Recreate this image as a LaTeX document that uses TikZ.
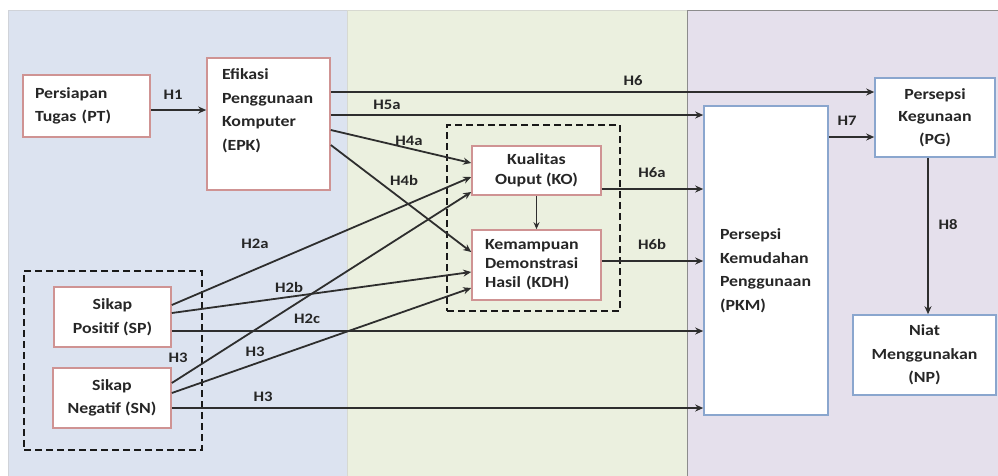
\documentclass[tikz,border=0pt]{standalone}
\usepackage{fontspec}
\setmainfont{Carlito}[FakeStretch=1.15]
\usetikzlibrary{arrows.meta}
\definecolor{bluep}{HTML}{DCE3F0}
\definecolor{greenp}{HTML}{EBF0DF}
\definecolor{purp}{HTML}{E5E0EC}
\definecolor{redb}{HTML}{CF9393}
\definecolor{blueb}{HTML}{8AA6CE}
\definecolor{lin}{HTML}{2E2E2E}
\definecolor{txt}{HTML}{262626}
\newcommand{\mytopbox}[5]{\parbox[c][#2][t]{#1}{\leftskip=#3\relax\vspace*{#4}#5}}
\begin{document}
\begin{tikzpicture}[x=1pt,y=-1pt,
  every node/.style={font=\fontsize{15.5}{23.5}\selectfont\bfseries, text=txt},
  redbox/.style={draw=redb, line width=1.6pt, fill=white, inner sep=0pt},
  bluebox/.style={draw=blueb, line width=1.6pt, fill=white, inner sep=0pt},
  conn/.style={draw=lin, line width=1.8pt, -{Stealth[length=8pt,width=7pt]}},
  hlab/.style={font=\fontsize{14.5}{16}\selectfont\bfseries},
  grp/.style={draw=black!90, line width=2.4pt, dash pattern=on 7pt off 4pt, inner sep=0pt, fill=none},
]
\useasboundingbox (0,0) rectangle (998,475);
\fill[white] (0,0) rectangle (998,475);
% panels
\filldraw[fill=bluep, draw=bluep!80!black!60] (8,10) rectangle (347,476);
\filldraw[fill=greenp, draw=greenp!80!black!60] (347,10) rectangle (687,476);
\filldraw[fill=purp, draw=black!45] (687,10) rectangle (999,476);

% group boxes
\node[grp, minimum width=178pt, minimum height=179pt] (GL) at (113,360.5) {};
\node[grp, minimum width=173pt, minimum height=186pt] (GM) at (533.5,218) {};

% boxes
\node[redbox, minimum width=127pt, minimum height=62pt, text width=103pt, align=left] (PT) at (86.5,106) {Persiapan\\Tugas (PT)};
\node[redbox, minimum width=123pt, minimum height=132pt] (EPK) at (268.5,124) {\mytopbox{123pt}{132pt}{15pt}{11pt}{Efikasi\\Penggunaan\\Komputer\\(EPK)}};
\node[redbox, minimum width=117pt, minimum height=60pt, align=center] (SP) at (112.5,317) {Sikap\\Positif (SP)};
\node[redbox, minimum width=118pt, minimum height=60pt, align=center] (SN) at (112,398) {Sikap\\Negatif (SN)};
\node[redbox, minimum width=129pt, minimum height=49pt, align=center, font=\fontsize{15.5}{20}\selectfont\bfseries] (KO) at (536.5,170.5) {Kualitas\\Ouput (KO)};
\node[redbox, minimum width=129pt, minimum height=70pt, text width=103pt, align=left, font=\fontsize{15.5}{19}\selectfont\bfseries] (KDH) at (536.5,265) {Kemampuan\\Demonstrasi\\Hasil (KDH)};
\node[bluebox, minimum width=124pt, minimum height=309pt] (PKM) at (766,260.5) {\mytopbox{124pt}{309pt}{16pt}{123pt}{Persepsi\\Kemudahan\\Penggunaan\\(PKM)}};
\node[bluebox, minimum width=120pt, minimum height=79pt, align=center, font=\fontsize{15.5}{22.5}\selectfont\bfseries] (PG) at (935,117.5) {Persepsi\\Kegunaan\\(PG)};
\node[bluebox, minimum width=143pt, minimum height=80pt, align=center] (NP) at (924.5,355) {Niat\\Menggunakan\\(NP)};

% connectors
\draw[conn] (PT.east |- 0,110) -- (EPK.west |- 0,110);
\draw[conn] (EPK.east |- 0,92) -- (PG.west |- 0,92);
\draw[conn] (EPK.east |- 0,115) -- (PKM.west |- 0,115);
\draw[conn] (EPK.east |- 0,130) -- (KO.west |- 0,163);
\draw[conn] (EPK.east |- 0,145) -- (KDH.west |- 0,252);
\draw[draw=lin, line width=1.1pt, -{Stealth[length=7pt,width=6pt]}] (KO.south) -- (KDH.north);
\draw[conn] (KO.east |- 0,189) -- (PKM.west |- 0,189);
\draw[conn] (KDH.east |- 0,261) -- (PKM.west |- 0,261);
\draw[conn] (PKM.east |- 0,137) -- (PG.west |- 0,137);
\draw[conn] (PG.south -| 928,0) -- (NP.north -| 928,0);
\draw[conn] (SP.east |- 0,305) -- (KO.west |- 0,177);
\draw[conn] (SP.east |- 0,313) -- (KDH.west |- 0,272);
\draw[conn] (SP.east |- 0,331) -- (PKM.west |- 0,331);
\draw[conn] (SN.east |- 0,383) -- (KO.west |- 0,192);
\draw[conn] (SN.east |- 0,393) -- (KDH.west |- 0,288);
\draw[conn] (SN.east |- 0,408) -- (PKM.west |- 0,408);

% labels
\node[hlab] (lH1) at (173,95) {H1};
\node[hlab] (lH6) at (633,81) {H6};
\node[hlab] (lH5a) at (387,105) {H5a};
\node[hlab] (lH4a) at (409,141) {H4a};
\node[hlab] (lH4b) at (404,180) {H4b};
\node[hlab] (lH6a) at (652,173) {H6a};
\node[hlab] (lH6b) at (652,244) {H6b};
\node[hlab] (lH7) at (847,121) {H7};
\node[hlab] (lH8) at (948,225) {H8};
\node[hlab] (lH2a) at (255,244) {H2a};
\node[hlab] (lH2b) at (289,287) {H2b};
\node[hlab] (lH2c) at (307,319) {H2c};
\node[hlab] (lH3a) at (178,358) {H3};
\node[hlab] (lH3b) at (255,352) {H3};
\node[hlab] (lH3c) at (263,397) {H3};
\end{tikzpicture}
\end{document}
